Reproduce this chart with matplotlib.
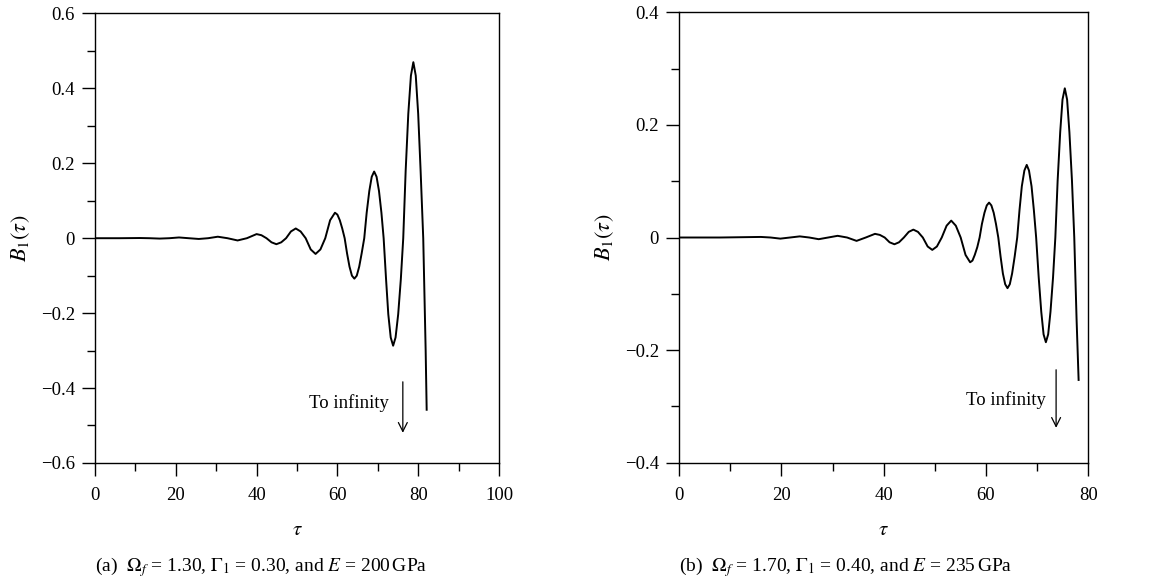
import matplotlib
matplotlib.use('Agg')
import matplotlib.pyplot as plt
from matplotlib.ticker import MultipleLocator, FuncFormatter

plt.rcParams['font.family'] = ['Liberation Serif', 'DejaVu Serif']
plt.rcParams['mathtext.fontset'] = 'stix'
plt.rcParams['axes.unicode_minus'] = True

# panel (a): values
tau_a = [0, 6, 11.1, 13.5, 16.0, 18.4, 20.8, 23.2, 25.7, 28.0, 30.4, 32.8, 35.3, 37.6, 40.0,
         41.2, 42.45, 43.7, 44.9, 46.1, 47.3, 48.5, 49.7, 50.9, 52.15, 53.4, 54.6,
         55.8, 57.0, 58.2, 59.4,
         60.0, 60.6, 61.2, 61.8, 62.4, 63.0, 63.6, 64.2,
         64.8, 65.4, 66.0, 66.65, 67.25, 67.9, 68.5, 69.1,
         69.7, 70.3, 70.9, 71.45, 72.05, 72.6, 73.2, 73.8,
         74.4, 75.05, 75.7, 76.3, 76.9, 77.55, 78.2, 78.8,
         79.4, 80.0, 80.6, 81.25, 81.85, 82.1]
b_a = [0, 0, 0.0005, 0, -0.001, 0, 0.002, 0, -0.002, 0, 0.004, 0, -0.006, 0, 0.011,
       0.008, 0, -0.011, -0.016, -0.011, 0, 0.018, 0.026, 0.018, 0, -0.030, -0.042,
       -0.030, 0, 0.048, 0.068,
       0.063, 0.048, 0.026, 0, -0.041, -0.076, -0.100, -0.108,
       -0.100, -0.076, -0.041, 0, 0.068, 0.126, 0.164, 0.178,
       0.164, 0.126, 0.068, 0, -0.110, -0.203, -0.265, -0.287,
       -0.265, -0.203, -0.110, 0, 0.180, 0.332, 0.434, 0.47,
       0.434, 0.332, 0.180, 0, -0.30, -0.458]

# panel (b)
tau_b = [0, 8, 16.0, 17.9, 19.8, 21.7, 23.6, 25.45, 27.3, 29.15, 31.0, 32.85, 34.7, 36.5, 38.3,
         39.25, 40.2, 41.15, 42.1, 43.0, 43.95, 44.9, 45.8, 46.7, 47.65, 48.6, 49.5,
         50.4, 51.35, 52.3, 53.2, 54.1, 55.05, 56.0, 56.9,
         57.35, 57.8, 58.3, 58.75, 59.2, 59.7, 60.15, 60.6,
         61.05, 61.5, 61.95, 62.4, 62.85, 63.3, 63.75, 64.2,
         64.65, 65.1, 65.6, 66.1, 66.55, 67.0, 67.5, 67.96,
         68.4, 68.9, 69.35, 69.8, 70.3, 70.8, 71.25, 71.7,
         72.15, 72.6, 73.1, 73.55, 74.0, 74.5, 74.95, 75.4,
         75.85, 76.3, 76.8, 77.25, 77.7, 78.1]
b_b = [0, 0, 0.001, 0, -0.002, 0, 0.002, 0, -0.003, 0, 0.003, 0, -0.006, 0, 0.0065,
       0.0046, 0, -0.0085, -0.012, -0.0085, 0, 0.010, 0.014, 0.010, 0, -0.016, -0.022,
       -0.016, 0, 0.021, 0.030, 0.021, 0, -0.031, -0.044,
       -0.041, -0.031, -0.017, 0, 0.024, 0.044, 0.057, 0.062,
       0.057, 0.044, 0.024, 0, -0.034, -0.064, -0.083, -0.090,
       -0.083, -0.064, -0.034, 0, 0.049, 0.091, 0.119, 0.129,
       0.119, 0.091, 0.049, 0, -0.071, -0.132, -0.172, -0.186,
       -0.172, -0.132, -0.071, 0, 0.101, 0.187, 0.245, 0.265,
       0.245, 0.187, 0.101, 0, -0.145, -0.253]


def fmt(v, pos):
    if abs(v) < 1e-9:
        return '0'
    s = '%g' % v
    return s.replace('-', '\u2212')


fig = plt.figure(figsize=(11.54, 5.86), dpi=100)
ax1 = fig.add_axes([0.0823, 0.210, 0.3501, 0.767])
ax2 = fig.add_axes([0.5884, 0.2104, 0.3547, 0.7686])

panels = [
    (ax1, tau_a, b_a, (0, 100), (-0.6, 0.6),
     r'(a)  $\Omega_f$ = 1.30, $\Gamma_1$ = 0.30, and $E$ = 200$\,$GPa',
     (76.2, -0.376, -0.527), (72.8, -0.44)),
    (ax2, tau_b, b_b, (0, 80), (-0.4, 0.4),
     r'(b)  $\Omega_f$ = 1.70, $\Gamma_1$ = 0.40, and $E$ = 235$\,$GPa',
     (73.7, -0.230, -0.343), (71.7, -0.289)),
]

for ax, t, b, xl, yl, cap, arr, txt in panels:
    ax.plot(t, b, color='black', lw=1.4, solid_joinstyle='round')
    ax.set_xlim(*xl)
    ax.set_ylim(*yl)
    ax.xaxis.set_major_locator(MultipleLocator(20))
    ax.xaxis.set_minor_locator(MultipleLocator(10))
    ax.yaxis.set_major_locator(MultipleLocator(0.2))
    ax.yaxis.set_minor_locator(MultipleLocator(0.1))
    ax.xaxis.set_major_formatter(FuncFormatter(fmt))
    ax.yaxis.set_major_formatter(FuncFormatter(fmt))
    ax.tick_params(which='major', direction='out', length=9.5, width=1.0, labelsize=13.5)
    ax.tick_params(axis='x', which='major', pad=8)
    ax.tick_params(axis='y', which='major', pad=5)
    ax.tick_params(which='minor', direction='out', length=5.5, width=1.0)
    for sp in ax.spines.values():
        sp.set_linewidth(1.0)
    ax.set_xlabel(r'$\tau$', fontsize=15, labelpad=12)
    ax.set_ylabel(r'$B_1(\tau)$', fontsize=16, labelpad=6)
    ax.annotate('', xy=(arr[0], arr[2]), xytext=(arr[0], arr[1]),
                arrowprops=dict(arrowstyle='->', color='black', lw=0.9,
                                mutation_scale=16))
    ax.text(txt[0], txt[1], 'To infinity', ha='right', va='center', fontsize=13.5)
    ax.text(0.0, -0.232, cap, transform=ax.transAxes, ha='left', va='center', fontsize=14)

fig.savefig('out.png', dpi=100)
